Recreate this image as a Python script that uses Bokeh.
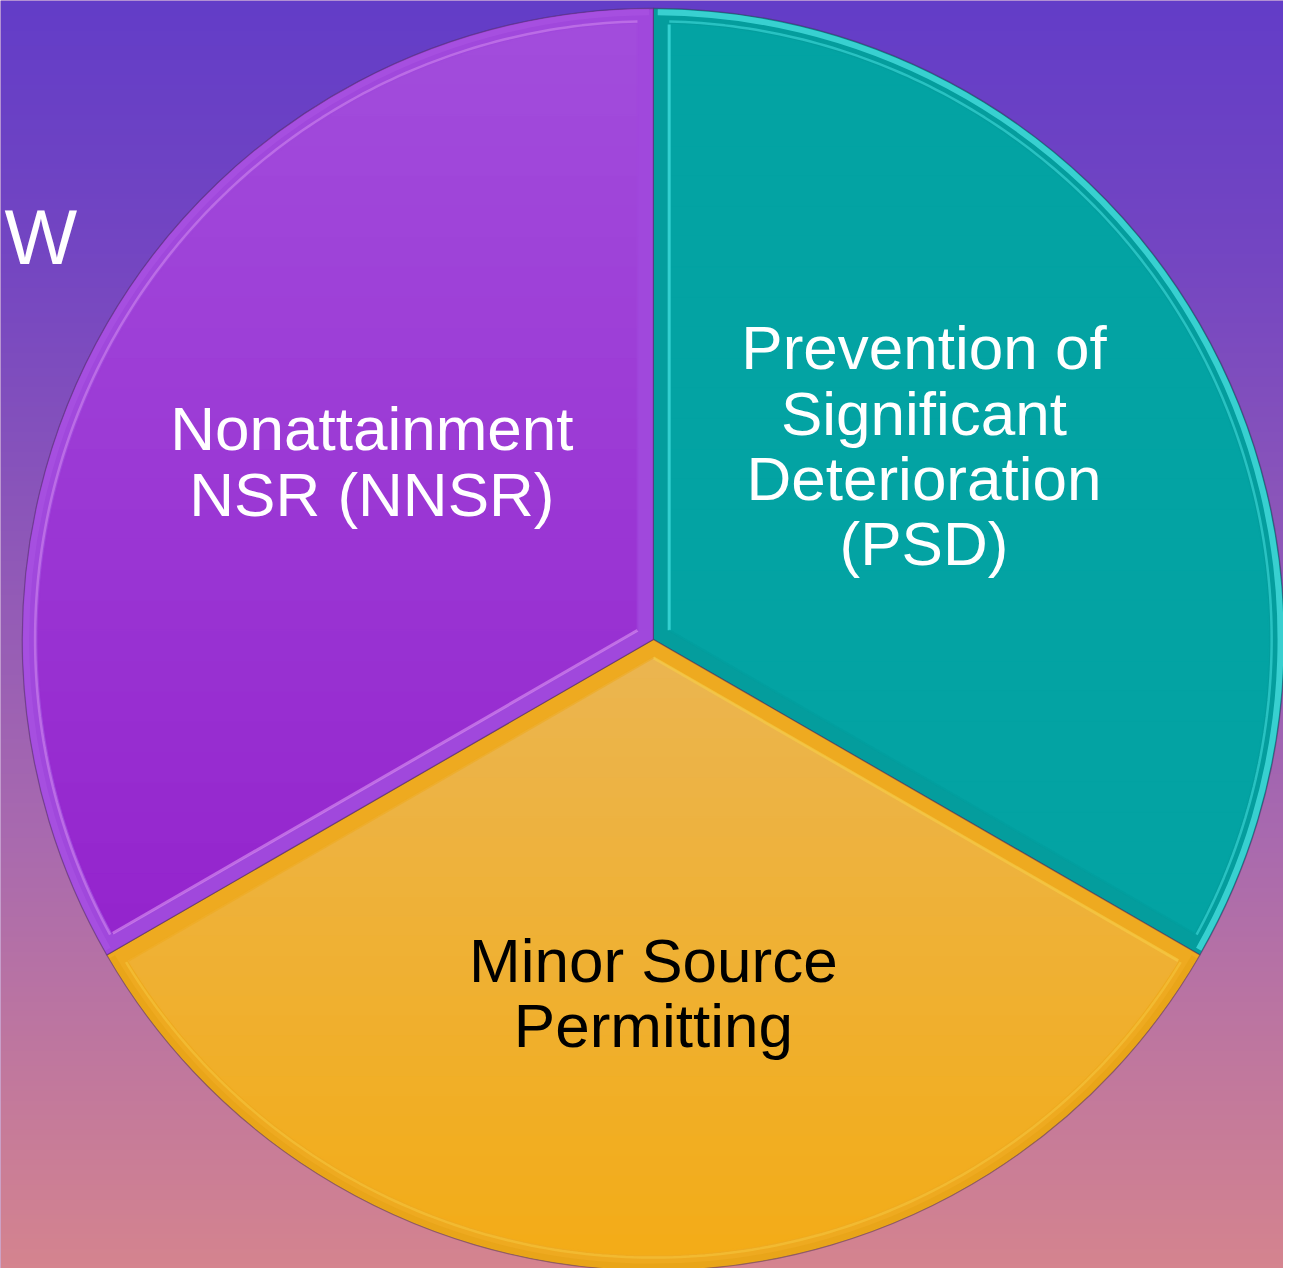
import numpy as np
from bokeh.plotting import figure
from bokeh.models import Range1d
from bokeh.core.properties import value
from bokeh.embed import file_html
from bokeh.resources import INLINE

# ---------------- data ----------------
categories = ["Prevention of Significant Deterioration (PSD)",
              "Minor Source Permitting",
              "Nonattainment NSR (NNSR)"]
values = [1, 1, 1]
label_lines = [["Prevention of", "Significant", "Deterioration", "(PSD)"],
               ["Minor Source", "Permitting"],
               ["Nonattainment", "NSR (NNSR)"]]
title_fragment = "W"

# ---------------- style / layout ----------------
W_IMG, H_IMG = 1299, 1284
face_top = ["#03a3a3", "#ebb550", "#a24ddc"]
face_bot = ["#03a3a3", "#f3ac17", "#9424cd"]
fill_band = ["#049d9d", "#eeaa20", "#a048dc"]
rim = ["#3ed6d6", "#e8a418", "#a650e0"]
highlight = ["#55f0f0", "#f6cf48", "#dc98f2"]
text_colors = ["white", "black", "white"]
cx, cy, R = 661, H_IMG - 647, 639
BEVEL = 16
label_anchor = [(935, 375), (661, 995), (376, 457)]
LINE_H = 66
FS = 62
BASE_SHIFT = 0.37  # empirical baseline correction (fraction of font size)

p = figure(width=1283, height=1268, output_backend="svg", toolbar_location=None,
           x_range=Range1d(0, W_IMG), y_range=Range1d(0, H_IMG),
           min_border=0, outline_line_color=None)
p.axis.visible = False
p.grid.visible = False
p.background_fill_color = "#9a5cb2"
p.border_fill_color = "#9a5cb2"

# background gradient
stops_t = [0.0, 0.2, 0.66, 1.0]
stops_c = np.array([[99, 61, 200], [116, 70, 194], [169, 106, 175], [213, 132, 143]], float)
ny = 256
tt = np.linspace(1, 0, ny)
img = np.zeros((ny, 2), dtype=np.uint32)
view = img.view(dtype=np.uint8).reshape((ny, 2, 4))
for ch in range(3):
    col = np.interp(tt, stops_t, stops_c[:, ch])
    view[:, :, ch] = col[:, None].astype(np.uint8)
view[:, :, 3] = 255
p.image_rgba(image=[img], x=0, y=0, dw=W_IMG, dh=H_IMG)


def hex2rgb(h):
    h = h.lstrip("#")
    return np.array([int(h[k:k + 2], 16) for k in (0, 2, 4)], float)


def rgb2hex(c):
    return "#%02x%02x%02x" % tuple(int(round(v)) for v in c)


def clip_half(pts, yv, keep_above):
    out = []
    n = len(pts)
    for k in range(n):
        P, Q = pts[k], pts[(k + 1) % n]
        pin = (P[1] >= yv) if keep_above else (P[1] <= yv)
        qin = (Q[1] >= yv) if keep_above else (Q[1] <= yv)
        if pin:
            out.append(P)
        if pin != qin:
            t = (yv - P[1]) / (Q[1] - P[1])
            out.append((P[0] + t * (Q[0] - P[0]), yv))
    return out


total = float(sum(values))
cum = np.concatenate([[0], np.cumsum(values)])
for i, (cat, v) in enumerate(zip(categories, values)):
    a0 = 90 - 360 * cum[i] / total
    a1 = 90 - 360 * cum[i + 1] / total
    p.wedge(x=cx, y=cy, radius=R, start_angle=a0, end_angle=a1, direction="clock",
            start_angle_units="deg", end_angle_units="deg",
            fill_color=fill_band[i], line_color="#4a2a5a", line_alpha=0.5, line_width=1.2)
    # outer rim
    p.arc(x=cx, y=cy, radius=R - 4, start_angle=a0 - 0.4, end_angle=a1 + 0.4, direction="clock",
          start_angle_units="deg", end_angle_units="deg",
          line_color=rim[i], line_width=6, line_alpha=0.9)
    # inset face with vertical gradient
    half = np.radians(abs(a0 - a1) / 2)
    b = np.radians((a0 + a1) / 2)
    s = BEVEL / np.sin(half)
    ax_, ay_ = cx + s * np.cos(b), cy + s * np.sin(b)
    Rin = R - BEVEL
    m = np.degrees(np.arcsin(BEVEL / Rin))
    phis = np.radians(np.linspace(a0 - m, a1 + m, 160))
    xs = np.concatenate([[ax_], cx + Rin * np.cos(phis)])
    ys = np.concatenate([[ay_], cy + Rin * np.sin(phis)])
    poly = list(zip(xs, ys))
    ymin, ymax = ys.min(), ys.max()
    nstrip = 30
    edges = np.linspace(ymin, ymax, nstrip + 1)
    ct, cb = hex2rgb(face_top[i]), hex2rgb(face_bot[i])
    sx, sy, sc = [], [], []
    for k in range(nstrip):
        part = clip_half(poly, edges[k], True)
        part = clip_half(part, edges[k + 1], False) if part else []
        if len(part) < 3:
            continue
        f = ((edges[k] + edges[k + 1]) / 2 - ymin) / (ymax - ymin)
        sx.append([q[0] for q in part])
        sy.append([q[1] for q in part])
        sc.append(rgb2hex(cb + (ct - cb) * f))
    p.patches(sx, sy, fill_color=sc, line_color=sc, line_width=1.2)
    # bevel highlights
    p.line(list(cx + (Rin + 3) * np.cos(phis)), list(cy + (Rin + 3) * np.sin(phis)),
           line_color=highlight[i], line_width=2.5, line_alpha=0.45)
    p.line([ax_, xs[1]], [ay_, ys[1]], line_color=highlight[i], line_width=3, line_alpha=0.6)
    p.line([ax_, xs[-1]], [ay_, ys[-1]], line_color=fill_band[i], line_width=2, line_alpha=0.6)
    # labels
    lx, ly0 = label_anchor[i]
    for k, line in enumerate(label_lines[i]):
        yb = ly0 + k * LINE_H - BASE_SHIFT * FS / 0.9875
        p.text(x=[lx], y=[H_IMG - yb], text=[line],
               text_font=value("Liberation Sans"), text_font_size=f"{FS}px",
               text_color=text_colors[i], text_align="center", text_baseline="alphabetic")

WFS = 77
p.text(x=[4], y=[H_IMG - (268 - BASE_SHIFT * WFS / 0.9875)], text=[title_fragment],
       text_font=value("Liberation Sans"), text_font_size=f"{WFS}px", text_color="white",
       text_align="left", text_baseline="alphabetic")

open("out.html", "w").write(file_html(p, INLINE))
